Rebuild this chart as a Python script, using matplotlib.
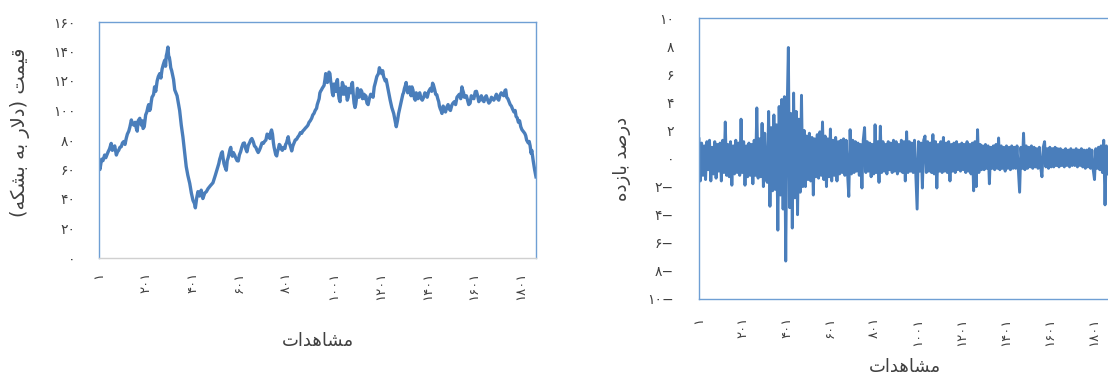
import matplotlib
matplotlib.use("Agg")
import matplotlib.pyplot as plt

plt.rcParams['font.family'] = ['DejaVu Sans']

# ---------------- data ----------------
price_obs = [
    1, 5, 12, 18, 25, 30, 40, 46, 53, 58, 63, 68, 75, 80, 85, 90, 96, 101, 107, 112,
    117, 122, 128, 133, 139, 144, 150, 155, 160, 164, 168, 175, 179, 182, 186, 189, 194, 200, 205, 210,
    213, 217, 220, 224, 227, 231, 234, 238, 243, 249, 254, 260, 265, 270, 275, 281, 285, 288, 291, 295,
    298, 301, 304, 307, 311, 315, 319, 324, 334, 345, 352, 359, 366, 373, 380, 388, 395, 402, 408, 412,
    418, 423, 430, 437, 444, 452, 459, 466, 476, 487, 497, 508, 512, 516, 520, 523, 527, 530, 534, 538,
    544, 548, 552, 556, 560, 563, 567, 570, 574, 579, 584, 590, 595, 600, 605, 610, 616, 621, 627, 632,
    638, 643, 648, 653, 659, 664, 670, 675, 680, 685, 690, 696, 702, 707, 713, 718, 723, 727, 730, 733,
    737, 741, 745, 748, 752, 755, 759, 762, 766, 770, 773, 778, 783, 788, 794, 797, 801, 804, 808, 811,
    815, 819, 823, 828, 833, 838, 844, 849, 854, 860, 865, 870, 876, 881, 887, 892, 897, 902, 908, 913,
    918, 923, 929, 932, 936, 940, 943, 946, 950, 953, 957, 961, 965, 968, 972, 975, 979, 982, 986, 989,
    993, 996, 1000, 1004, 1008, 1011, 1015, 1018, 1022, 1025, 1029, 1032, 1036, 1039, 1043, 1046, 1050, 1053, 1057, 1060,
    1064, 1067, 1071, 1075, 1079, 1082, 1086, 1089, 1093, 1096, 1100, 1103, 1107, 1110, 1114, 1118, 1122, 1125, 1128, 1132,
    1135, 1139, 1144, 1149, 1154, 1160, 1165, 1170, 1175, 1180, 1186, 1193, 1197, 1200, 1207, 1211, 1215, 1222, 1226, 1229,
    1236, 1240, 1243, 1250, 1258, 1264, 1269, 1274, 1279, 1286, 1293, 1297, 1300, 1304, 1308, 1311, 1315, 1318, 1322, 1326,
    1329, 1332, 1336, 1340, 1343, 1347, 1350, 1354, 1357, 1361, 1364, 1369, 1375, 1380, 1386, 1391, 1396, 1401, 1407, 1411,
    1415, 1420, 1424, 1428, 1433, 1437, 1442, 1446, 1450, 1453, 1457, 1460, 1464, 1469, 1474, 1479, 1485, 1490, 1495, 1500,
    1506, 1511, 1517, 1522, 1528, 1533, 1538, 1544, 1549, 1552, 1556, 1559, 1563, 1568, 1573, 1578, 1584, 1589, 1595, 1600,
    1606, 1611, 1616, 1621, 1627, 1632, 1637, 1643, 1648, 1653, 1659, 1664, 1669, 1675, 1680, 1685, 1691, 1696, 1701, 1706,
    1712, 1717, 1722, 1727, 1733, 1736, 1740, 1745, 1750, 1755, 1760, 1765, 1771, 1776, 1780, 1785, 1790, 1795, 1800, 1805,
    1810, 1817, 1821, 1825, 1832, 1836, 1840, 1844, 1847, 1853, 1859, 1865,
]
price_vals = [
    62, 60, 67, 66, 69.8, 68, 72, 74, 77.7, 73, 74, 76, 69.8, 72, 73, 75, 75.5, 78, 79, 77,
    81, 84, 86, 89, 93.6, 91, 90, 92, 88, 86, 93, 94.7, 91, 90, 93, 87.8, 89, 97, 99, 102.6,
    104, 100, 101, 106, 109, 110, 111, 116, 113, 120, 123, 125, 122, 128, 131, 134, 130, 137, 139, 143,
    137, 136, 133, 129, 127, 124, 121, 114, 110, 100, 90, 82, 72, 62, 56, 50.6, 44, 39, 37, 34,
    41, 45, 42, 46, 40.3, 44, 45, 47, 49, 51, 56, 62, 64, 67, 69, 71, 72, 68, 64, 62,
    59.5, 66, 68, 71, 73.8, 75, 70, 69, 71.5, 70, 68, 66, 65.8, 70, 72, 75, 77.7, 78, 74, 72,
    76.5, 78, 80, 81, 78.8, 76, 75, 73, 71.5, 73, 75, 78, 77.7, 79, 80, 84, 83.4, 82, 81, 85,
    86.8, 84, 78, 75, 72, 70, 69.2, 72, 74, 77, 76.5, 74, 73, 75, 74.2, 77, 78, 80, 82.2, 79,
    77, 75, 72.6, 76, 78, 80, 80.5, 82, 83, 85, 84.5, 86, 87, 88, 89, 90, 92, 93, 94.7, 97,
    98, 100, 101.5, 104, 106, 108, 111.8, 113, 114, 115, 116, 117, 121, 125, 124, 119, 122, 126, 125, 120,
    117, 112, 110, 118, 115, 113, 119.6, 121, 112, 108, 106, 115, 111, 119, 117, 111, 113, 116, 111, 107,
    109, 115, 114, 112, 118, 119, 110, 105, 102, 104, 109, 115, 113.6, 109, 111, 114, 112.8, 108, 110, 111,
    108, 110, 105, 104, 108, 111, 110.6, 109, 116, 119, 123, 125, 129, 127.5, 125, 127, 123, 120, 121, 118.5,
    113, 109, 107, 102, 98, 93, 89, 93, 98, 103, 108, 111, 112, 115, 117, 119, 114, 112, 113.6, 116,
    112, 110, 116, 114, 111, 108, 107, 112, 109, 108, 110.6, 112, 108, 107, 109, 112, 111, 109, 112.8, 114,
    115, 113, 118.5, 117, 114, 111, 110.6, 108, 106, 103, 101, 100, 98, 103, 101, 99, 102.5, 104, 101, 100,
    103.6, 105, 106, 104, 109, 110, 111, 108, 116, 114, 112, 109, 109, 110, 107, 104, 105, 110, 109, 108,
    112.8, 113, 110, 106, 108, 110, 107, 106, 109, 110, 107, 105, 106, 109, 108, 107, 109, 111, 108, 107,
    110.6, 112, 111, 110, 113.6, 114, 109, 108, 106, 104, 103, 101, 99, 100, 96, 95, 92, 93, 89, 87,
    86, 84.5, 83, 80, 78, 79, 76, 71, 73, 66, 60, 55,
]

return_obs_start = 1
return_obs_step = 6
return_vals = [
    1.4, -1.6, 1.1, -1.2, 0.9, -1.5, 1.2, -0.8, 1.3, -1.6, 0.8, -1.1, 1.2, -1.4, 1.0, -0.9, 1.1, -1.6, 1.3, -1.0,
    2.6, -1.2, 1.0, -1.3, 1.2, -1.9, 0.9, -1.1, 1.3, -1.0, 1.1, -1.2, 2.8, -1.0, 1.2, -1.9, 0.9, -1.3, 1.1, -1.2,
    1.0, -1.8, 1.3, -1.2, 3.6, -1.4, 1.4, -1.3, 2.5, -2.0, 1.8, -1.5, -1.7, 3.35, -3.4, 2.2, -2.3, 3.1, -2.2, 2.4,
    -5.1, 3.7, -2.6, 4.2, -3.6, 4.4, -7.3, 3.0, 7.9, -3.5, 3.2, -4.95, 4.66, -2.8, 3.35, -4.0, 2.8, -2.4, 4.5, -2.0,
    2.0, -2.0, 1.6, -1.5, 1.8, -1.6, 1.5, -2.6, 1.4, -1.3, 1.7, -1.4, 1.9, -1.2, 2.6, -1.5, 1.6, -2.0, 1.4, -1.3,
    2.1, -1.6, 1.3, -1.2, 1.5, -1.6, 1.2, -1.1, 1.3, -1.0, 1.4, -1.2, 1.3, -1.0, -2.7, 2.05, -1.1, 1.3, -1.0, 1.2,
    -0.9, 1.1, -1.2, 1.0, -2.1, 1.3, 2.2, -1.0, 1.2, -0.9, 1.1, -1.3, 1.0, -1.1, 2.4, -1.0, 1.2, -1.7, 2.3, -1.0,
    1.2, -0.9, 1.0, -1.1, 1.2, -0.8, 1.1, -1.0, 1.3, -0.9, 1.2, -1.1, 1.0, -0.9, 1.3, -1.0, 1.2, -1.6, 1.9, -1.0,
    1.2, -0.9, 1.1, -1.0, 1.3, -1.1, -3.6, 1.2, -0.9, 1.1, -2.1, 1.3, 1.6, -1.0, 1.2, -0.9, 1.1, -1.0, 1.7, -1.1,
    1.2, -2.1, 1.0, -0.9, 1.2, -1.0, 1.5, -0.9, 1.1, -1.0, 1.2, -1.6, 1.0, -0.9, 1.1, -1.0, 1.2, -0.8, 1.0, -0.9,
    1.1, -0.8, 1.0, -1.0, 1.2, -0.9, 1.0, -1.1, 1.1, -2.3, 1.2, -2.0, 2.05, -1.0, 1.0, -0.8, 0.9, -0.8, 1.0, -0.7,
    0.9, -1.8, 0.8, -0.7, 0.9, -0.8, 1.0, -0.7, 1.46, -0.8, 0.9, -0.7, 0.8, -0.9, 0.9, -0.7, 0.8, -0.8, 0.9, -0.7,
    0.8, -0.7, 0.9, -0.8, -2.4, 0.8, -0.7, 1.8, -0.8, 0.9, -0.7, 0.8, -0.6, 0.9, -0.7, 0.8, -0.6, 0.7, -0.7, 0.8,
    -0.6, -1.3, 0.8, 1.2, -0.6, 0.7, -0.7, 0.8, -0.6, 0.7, -0.6, 0.8, -0.5, 0.7, -0.6, 0.7, -0.5, 0.6, -0.6, 0.7,
    -0.5, 0.6, -0.6, 0.7, -0.5, 0.6, -0.5, 0.7, -0.6, 0.6, -0.5, 0.7, -0.6, 0.6, -0.7, 0.6, -0.6, 0.7, -0.7, 0.6,
    -0.8, -1.5, 0.7, -0.7, 0.8, -0.8, 0.9, -1.0, 1.3, -3.3, 0.9, -1.1,
]
return_obs = [return_obs_start + i * return_obs_step for i in range(len(return_vals))]

x_ticks = [1, 201, 401, 601, 801, 1001, 1201, 1401, 1601, 1801]
price_ticks = [0, 20, 40, 60, 80, 100, 120, 140, 160]
return_ticks = [-10, -8, -6, -4, -2, 0, 2, 4, 6, 8, 10]

# Persian text (presentation forms, visual order)
xlabel_txt = "\uFE95\uFE8D\uFEAA\uFEEB\uFE8E\uFEB8\uFEE3"                 # مشاهدات
ylabel_price = ("(\uFEEA\uFB91\uFEB8\uFE91 \uFEEA\uFE91 \uFEAD\uFEFB\uFEA9) "
                "\uFE96\uFEE4\uFEF4\uFED7")                               # قیمت (دلار به بشکه)
ylabel_ret = "\uFEE9\uFEA9\uFEAF\uFE8E\uFE91 \uFEAA\uFEBB\uFEAD\uFEA9"     # درصد بازده

FA_DIGITS = str.maketrans("0123456789", "۰۱۲۳۴۵۶۷۸۹")


def fa(n):
    s = str(abs(int(n))).translate(FA_DIGITS)
    return s + "\u2212" if n < 0 else s


# ---------------- styling ----------------
LINE = "#4A7EBB"
FRAME = "#6F9FD4"
TXT = "#404040"
W, H = 1108, 378

fig = plt.figure(figsize=(W / 100, H / 100), dpi=100)

# left panel
ax1 = fig.add_axes([99 / W, (H - 258) / H, 437 / W, 236 / H])
ax1.plot(price_obs, price_vals, color=LINE, lw=2.4, solid_joinstyle='round')
ax1.set_xlim(1, 1865)
ax1.set_ylim(0, 160)
ax1.set_yticks(price_ticks)
ax1.set_yticklabels([fa(v) for v in price_ticks])
ax1.set_xticks(x_ticks)
ax1.set_xticklabels([fa(v) for v in x_ticks], rotation=90)
ax1.tick_params(axis='y', length=0, pad=17, labelsize=10, labelcolor=TXT)
ax1.tick_params(axis='x', length=0, pad=10, labelsize=9.5, labelcolor=TXT)
for s in ['left', 'top', 'right']:
    ax1.spines[s].set_color(FRAME)
    ax1.spines[s].set_linewidth(1.0)
ax1.spines['bottom'].set_color("#D0D0D0")
ax1.spines['bottom'].set_linewidth(1.0)
ax1.set_ylabel(ylabel_price, fontsize=14, color=TXT)
ax1.yaxis.set_label_coords(-0.158, 0.534)
ax1.set_xlabel(xlabel_txt, fontsize=13, color=TXT, labelpad=23)

# right panel (extends slightly beyond figure edge, as in the reference)
right_px = 1110
ax2 = fig.add_axes([699 / W, (H - 299) / H, (right_px - 699) / W, 281 / H])
ax2.plot(return_obs, return_vals, color=LINE, lw=2.1)
ax2.set_xlim(1, 1 + (right_px - 699) / 43.8 * 200)
ax2.set_ylim(-10, 10)
ax2.set_yticks(return_ticks)
ax2.set_yticklabels([fa(v) for v in return_ticks])
ax2.set_xticks(x_ticks)
ax2.set_xticklabels([fa(v) for v in x_ticks], rotation=90)
ax2.tick_params(axis='y', length=0, pad=18, labelsize=10, labelcolor=TXT)
ax2.tick_params(axis='x', length=0, pad=13, labelsize=9.5, labelcolor=TXT)
for s in ['left', 'top', 'right', 'bottom']:
    ax2.spines[s].set_color(FRAME)
    ax2.spines[s].set_linewidth(1.0)
ax2.set_ylabel(ylabel_ret, fontsize=13, color=TXT, labelpad=12)
ax2.set_xlabel(xlabel_txt, fontsize=13, color=TXT, labelpad=9)

assert len(price_obs) == len(price_vals)
fig.savefig("out.png", dpi=100)
